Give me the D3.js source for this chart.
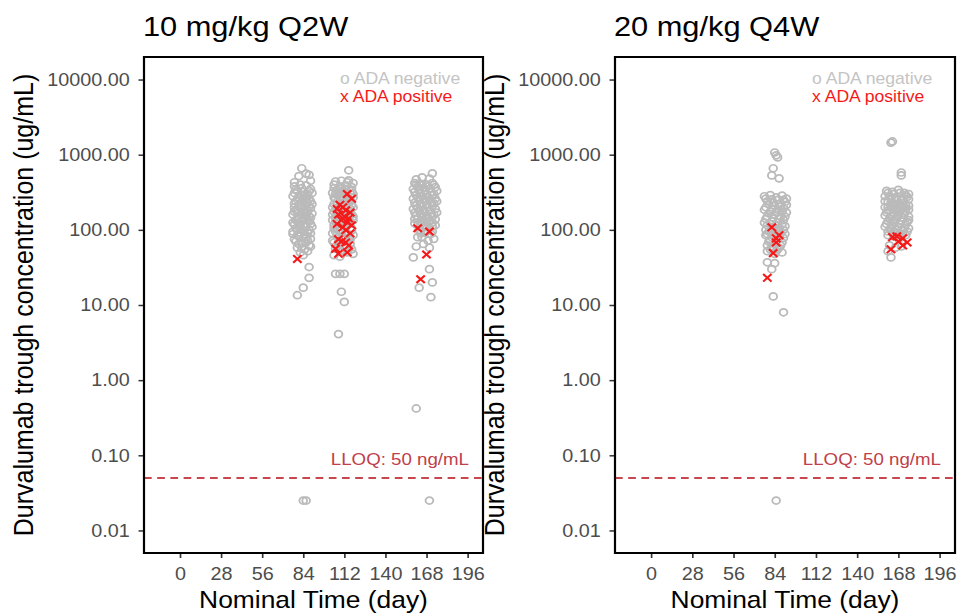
<!DOCTYPE html>
<html>
<head>
<meta charset="utf-8">
<script src="https://cdn.jsdelivr.net/npm/d3@7"></script>
<style>
  body { margin: 0; background: #fff; }
  text { font-family: "Liberation Sans", Arial, sans-serif; }
</style>
</head>
<body>
<script>
// panel titles and axis ticks
var panelTitles = ["10 mg/kg Q2W", "20 mg/kg Q4W"];
var xTicks = [0, 28, 56, 84, 112, 140, 168, 196];
var yTicks = [0.01, 0.1, 1, 10, 100, 1000, 10000];
var lloq = 0.05;

// [nominal day incl. jitter, trough conc ug/mL]
var q2wNeg = [
  // day 84
  [83,660],[86,560],[81,520],[88,540],[89,450],[78,430],
  [78,380],[82,400],[86,390],[89,350],[80,330],[84,320],[87,300],[90,310],
  [77,280],[81,270],[85,290],[88,260],[79,240],[83,230],[86,250],[90,220],
  [78,200],[82,210],[85,190],[89,195],[80,175],[84,170],[87,180],[77,160],
  [81,150],[86,155],[89,145],[79,135],[83,130],[88,128],[78,118],[82,112],
  [85,120],[90,110],[80,100],[84,98],[87,92],[77,88],[81,82],[86,80],
  [89,76],[79,70],[83,66],[88,62],[80,58],[85,55],[82,50],[87,52],[84,46],
  [79,345],[83,360],[88,330],[78,310],[82,290],[86,275],[89,240],[80,255],
  [84,265],[87,230],[78,225],[81,215],[85,225],[88,205],[79,185],[83,195],
  [86,170],[90,165],[78,175],[82,160],[85,145],[88,150],[80,140],[84,140],
  [87,135],[77,125],[81,125],[86,110],[89,120],[79,105],[83,102],[88,100],
  [77,95],[82,92],[85,88],[89,90],[80,85],[84,78],[87,72],[78,75],[81,65],
  [86,68],[83,58],[89,60],
  [88,32],[88,23],[84,17],[80,13.5],[84,0.025],[86,0.025],
  // day 112
  [115,620],[115,455],
  [106,440],[110,450],[114,430],[118,420],[105,400],[109,380],[113,390],[117,370],
  [107,340],[111,330],[115,350],[104,310],[108,300],[112,290],[116,300],[118,270],
  [106,260],[110,250],[114,240],[105,220],[109,210],[113,200],[117,215],[107,185],
  [111,175],[115,180],[104,160],[108,150],[112,145],[116,155],[118,135],[106,130],
  [110,120],[114,115],[105,105],[109,100],[113,95],[117,98],[107,85],[111,80],
  [115,78],[104,72],[108,68],[112,62],[116,65],[106,56],[110,52],[114,50],
  [118,48],[109,44],[105,46],
  [105,360],[109,350],[113,340],[117,330],[106,300],[110,310],[114,280],[118,300],
  [105,270],[109,275],[112,260],[116,250],[107,235],[111,225],[115,230],[118,200],
  [104,200],[108,195],[112,180],[116,190],[105,175],[109,165],[113,165],[117,160],
  [106,150],[110,145],[114,140],[118,150],[104,135],[108,125],[112,120],[116,125],
  [105,115],[109,110],[113,108],[117,105],[106,95],[110,90],[114,88],[118,85],
  [104,90],[108,80],[112,78],[116,75],[105,68],[109,62],[113,58],[117,55],
  [106,26],[109,26],[112,26],[110,15],[112,11],[108,4.1],
  // day 168
  [172,565],[170,480],[165,500],[161,470],
  [160,420],[164,410],[168,400],[172,420],[162,370],[166,360],[170,350],[174,370],
  [160,320],[164,310],[168,300],[172,290],[162,270],[166,260],[170,250],[174,260],
  [160,230],[164,220],[168,215],[172,210],[162,195],[166,185],[170,180],[174,190],
  [160,170],[164,160],[168,155],[172,150],[162,140],[166,135],[170,130],[174,138],
  [160,122],[164,118],[168,112],[172,110],[163,100],[167,92],[171,88],[165,80],
  [169,72],[166,65],[170,58],[161,60],[173,76],
  [161,400],[165,390],[169,380],[173,395],[159,350],[163,340],[167,330],[171,320],
  [175,330],[161,290],[165,280],[169,275],[173,300],[159,260],[163,250],[167,240],
  [171,235],[175,240],[161,210],[165,205],[169,200],[173,225],[159,190],[163,180],
  [167,170],[171,165],[175,170],[161,155],[165,150],[169,145],[173,160],[160,140],
  [164,130],[168,128],[172,125],[162,115],[166,108],[170,105],[174,115],[164,90],
  [168,95],[162,80],[172,95],
  [159,43],[170,30],[172,20],[163,17],[171,12.7],[161,0.42],[170,0.025]
];
var q2wPos = [
  [80,41],
  [114,300],[117,260],[109,215],[111,200],[107,190],[113,182],[116,170],[108,160],
  [112,150],[115,142],[110,135],[114,126],[107,120],[117,115],[111,108],[113,99],
  [116,90],[108,75],[110,70],[113,68],[115,62],[106,56],[114,50],[108,48],
  [162,105],[170,95],[168,47],[164,22]
];
var q4wNeg = [
  // day 84
  [84,1070],[86,920],[83,660],[82,530],[87,485],[85,980],
  [77,280],[81,290],[85,270],[89,285],[92,260],[79,240],[83,230],[87,220],[91,235],
  [78,200],[82,190],[86,185],[90,195],[80,165],[84,160],[88,150],[92,170],[78,140],
  [82,130],[86,125],[90,135],[79,115],[83,110],[87,105],[91,112],[80,95],[84,92],
  [88,90],[78,85],[82,80],[86,75],[90,78],[80,70],[84,65],[88,62],[82,58],[86,55],
  [79,52],[84,48],[89,50],
  [78,260],[82,255],[86,250],[90,250],[80,220],[84,210],[88,205],[92,215],
  [77,185],[81,175],[85,170],[89,175],[79,150],[83,145],[87,140],[91,150],
  [77,125],[81,120],[85,115],[89,118],[78,100],[82,100],[86,98],[90,100],
  [79,88],[83,85],[87,82],[91,88],[81,72],[85,70],[89,68],[79,62],[83,60],
  [87,58],[81,55],[85,52],
  [79,37],[84,36],[82,30],[83,13],[90,8],[85,0.025],
  // day 168
  [163,1450],[164,1500],[170,580],[170,530],
  [160,330],[164,320],[168,340],[172,310],[175,300],[162,280],[166,270],[170,260],[174,275],
  [159,240],[163,230],[167,220],[171,225],[175,210],[161,200],[165,190],[169,185],[173,195],
  [160,170],[164,160],[168,155],[172,165],[175,150],[162,140],[166,135],[170,130],[174,128],
  [160,120],[164,115],[168,110],[172,105],[163,98],[167,92],[171,88],[165,82],[169,78],
  [161,85],[174,95],
  [161,310],[165,300],[169,310],[173,290],[159,280],[163,265],[167,255],[171,250],
  [175,255],[161,235],[165,225],[169,215],[173,215],[159,200],[163,205],[167,195],
  [171,195],[175,185],[161,180],[165,170],[169,170],[173,175],[159,155],[163,150],
  [167,145],[171,145],[175,135],[161,130],[165,125],[169,120],[173,118],[159,110],
  [163,108],[167,102],[171,100],[175,105],[165,95],[169,90],[161,95],[173,85],
  [162,62],[166,58],[170,60],[161,52],[163,43]
];
var q4wPos = [
  [82,108],[85,77],[85,68],[87,85],[83,49],[79,23],
  [164,80],[167,82],[171,77],[174,68],[171,62],[163,55],[168,70]
];

var SX = 1.1;  // the original figure is a bit stretched sideways
var W = 958, H = 615;

var svg = d3.select("body").append("svg")
  .attr("width", W)
  .attr("height", H);

var root = svg.append("g").attr("transform", "scale(" + SX + ",1)");

// panel boxes, in page pixels
var panels = [
  { left: 144, right: 483, neg: q2wNeg, pos: q2wPos, title: panelTitles[0] },
  { left: 615, right: 955, neg: q4wNeg, pos: q4wPos, title: panelTitles[1] }
];
var plotTop = 57, plotBottom = 553;

var y = d3.scaleLog()
  .domain([Math.pow(10, -2.3), Math.pow(10, 4.3)])
  .range([plotBottom, plotTop]);

panels.forEach(function(p) {
  var x0 = p.left / SX, x1 = p.right / SX;
  var x = d3.scaleLinear().domain([-24.5, 206.5]).range([x0, x1]);

  var g = root.append("g");

  // title
  g.append("text")
    .attr("x", x0 - 1)
    .attr("y", 36)
    .attr("font-size", 28)
    .attr("fill", "#000")
    .text(p.title);

  // y axis
  var yAxis = g.append("g")
    .attr("transform", "translate(" + x0 + ",0)")
    .call(d3.axisLeft(y).tickValues(yTicks).tickFormat(d3.format(".2f"))
      .tickSize(5).tickPadding(8).tickSizeOuter(0));
  yAxis.select(".domain").remove();
  yAxis.selectAll("line").attr("stroke", "#333").attr("stroke-width", 1.5);
  yAxis.selectAll("text").attr("font-size", 18).attr("fill", "#4d4d4d")
    .style("font-family", "Liberation Sans, Arial, sans-serif");

  // x axis
  var xAxis = g.append("g")
    .attr("transform", "translate(0," + plotBottom + ")")
    .call(d3.axisBottom(x).tickValues(xTicks).tickSize(5).tickPadding(9).tickSizeOuter(0));
  xAxis.select(".domain").remove();
  xAxis.selectAll("line").attr("stroke", "#333").attr("stroke-width", 1.5);
  xAxis.selectAll("text").attr("font-size", 18).attr("fill", "#4d4d4d")
    .style("font-family", "Liberation Sans, Arial, sans-serif");

  // axis titles
  g.append("text")
    .attr("x", (x0 + x1) / 2)
    .attr("y", 608)
    .attr("text-anchor", "middle")
    .attr("font-size", 24)
    .text("Nominal Time (day)");

  g.append("text")
    .attr("transform", "translate(" + ((p.left - 111) / SX) + "," + ((plotTop + plotBottom) / 2) + ") rotate(-90)")
    .attr("text-anchor", "middle")
    .attr("font-size", 25)
    .text("Durvalumab trough concentration (ug/mL)");

  // LLOQ line
  g.append("line")
    .attr("x1", x0).attr("x2", x1)
    .attr("y1", y(lloq)).attr("y2", y(lloq))
    .attr("stroke", "#c8474f")
    .attr("stroke-width", 2)
    .attr("stroke-dasharray", "7,5");

  g.append("text")
    .attr("x", x1 - 14 / SX)
    .attr("y", 465)
    .attr("text-anchor", "end")
    .attr("font-size", 17)
    .attr("fill", "#c0404a")
    .text("LLOQ: 50 ng/mL");

  // ADA negative
  g.append("g").selectAll("circle")
    .data(p.neg)
    .enter().append("circle")
    .attr("cx", function(d) { return x(d[0]); })
    .attr("cy", function(d) { return y(d[1]); })
    .attr("r", 3.5)
    .attr("fill", "none")
    .attr("stroke", "#bababa")
    .attr("stroke-width", 1.7);

  // ADA positive
  var s = 3.8;
  g.append("g").selectAll("path")
    .data(p.pos)
    .enter().append("path")
    .attr("d", function(d) {
      var cx = x(d[0]), cy = y(d[1]);
      return "M" + (cx - s) + "," + (cy - s) + "L" + (cx + s) + "," + (cy + s) +
             "M" + (cx - s) + "," + (cy + s) + "L" + (cx + s) + "," + (cy - s);
    })
    .attr("stroke", "#f51a1a")
    .attr("stroke-width", 2)
    .attr("fill", "none");

  // legend text
  g.append("text")
    .attr("x", x1 - 143 / SX)
    .attr("y", 84)
    .attr("font-size", 16)
    .attr("fill", "#c4c4c4")
    .text("o ADA negative");
  g.append("text")
    .attr("x", x1 - 143 / SX)
    .attr("y", 102)
    .attr("font-size", 16)
    .attr("fill", "#f51a1a")
    .text("x ADA positive");

  // plot border
  g.append("rect")
    .attr("x", x0).attr("y", plotTop)
    .attr("width", x1 - x0).attr("height", plotBottom - plotTop)
    .attr("fill", "none")
    .attr("stroke", "#000")
    .attr("stroke-width", 2);
});
</script>
</body>
</html>
